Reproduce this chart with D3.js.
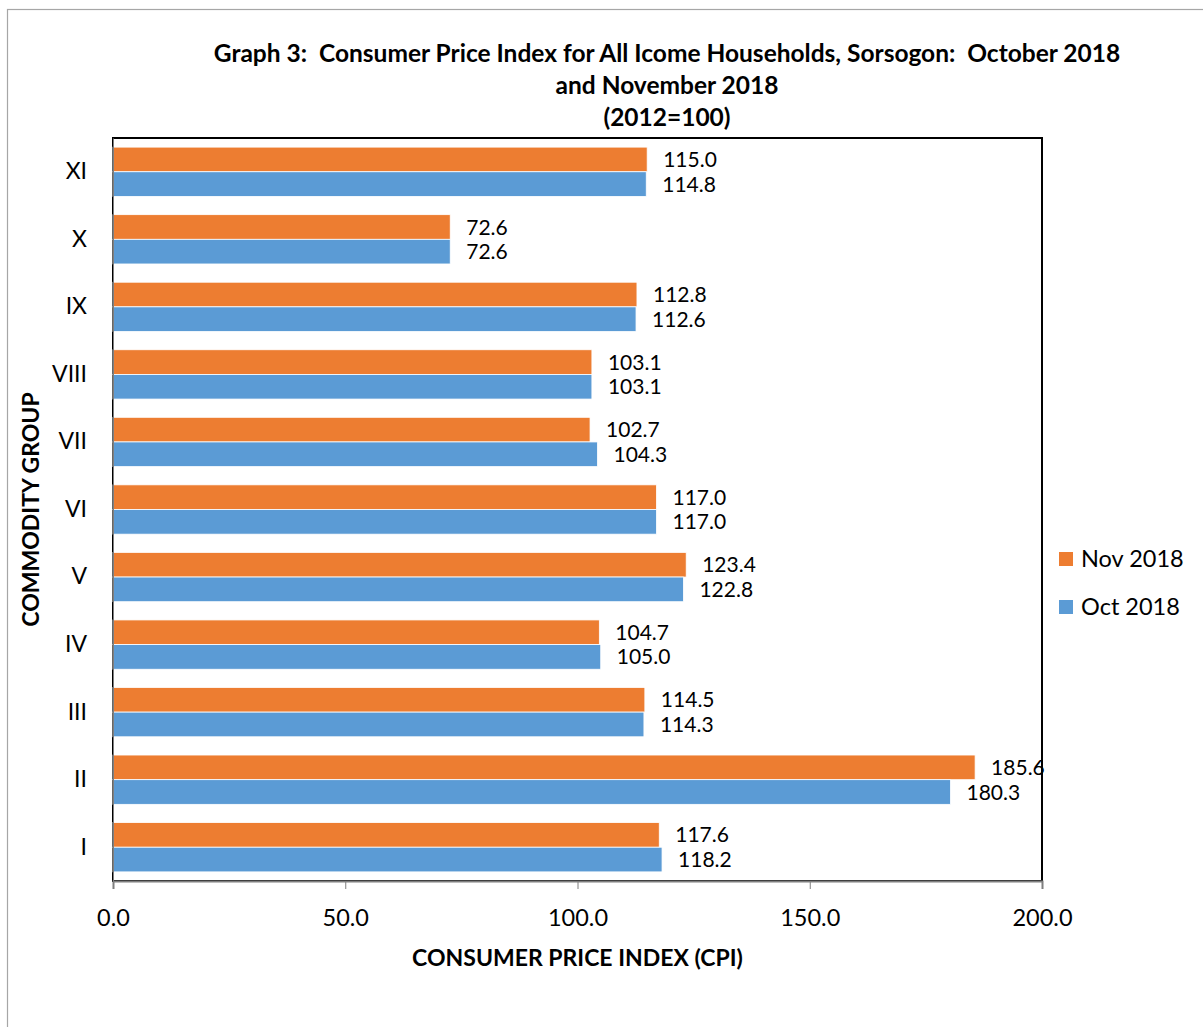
<!DOCTYPE html>
<html>
<head>
<meta charset="utf-8">
<script src="https://cdn.jsdelivr.net/npm/d3@7"></script>
<style>
  body { margin: 0; background: #fff; }
  text { font-family: Lato, "Open Sans", sans-serif; fill: #000; }
</style>
</head>
<body>
<div id="chart"></div>
<script>
// commodity groups, top to bottom as drawn
const groups = ["XI", "X", "IX", "VIII", "VII", "VI", "V", "IV", "III", "II", "I"];
const nov2018 = [115.0, 72.6, 112.8, 103.1, 102.7, 117.0, 123.4, 104.7, 114.5, 185.6, 117.6];
const oct2018 = [114.8, 72.6, 112.6, 103.1, 104.3, 117.0, 122.8, 105.0, 114.3, 180.3, 118.2];
const seriesNames = ["Nov 2018", "Oct 2018"];
const xTicks = [0, 50, 100, 150, 200];
const titleLines = ["Graph 3:  Consumer Price Index for All Icome Households, Sorsogon:  October 2018",
                    "and November 2018", "(2012=100)"];

const colors = {"Nov 2018": "#ED7D31", "Oct 2018": "#5B9BD5"};

const W = 1203, H = 1027;
const plot = {left: 113, top: 138, right: 1042, bottom: 881};

const svg = d3.select("#chart").append("svg")
  .attr("width", W).attr("height", H);

// outer chart border
svg.append("rect")
  .attr("x", 7.5).attr("y", 9.5)
  .attr("width", 1220).attr("height", 1040)
  .attr("fill", "#fff").attr("stroke", "#a6a6a6").attr("stroke-width", 1.2);

const rows = groups.map((g, i) => ({group: g, nov: nov2018[i], oct: oct2018[i]}));

const xScale = d3.scaleLinear().domain([0, 200]).range([plot.left, plot.right]);
const yScale = d3.scaleBand().domain(groups)
  .range([plot.top, plot.bottom]).paddingInner(0.27).paddingOuter(0.135);
const inner = d3.scaleBand().domain(seriesNames).range([0, yScale.bandwidth()]);

// plot frame
svg.append("rect")
  .attr("x", plot.left).attr("y", plot.top)
  .attr("width", plot.right - plot.left).attr("height", plot.bottom - plot.top)
  .attr("fill", "none").attr("stroke", "#000").attr("stroke-width", 2);

// bars
const rowG = svg.selectAll("g.row").data(rows).enter().append("g")
  .attr("class", "row")
  .attr("transform", d => "translate(0," + yScale(d.group) + ")");

seriesNames.forEach(s => {
  const key = s === "Nov 2018" ? "nov" : "oct";
  rowG.append("rect")
    .attr("x", xScale(0))
    .attr("y", inner(s))
    .attr("width", d => xScale(d[key]) - xScale(0))
    .attr("height", inner.bandwidth())
    .attr("fill", colors[s])
    .attr("stroke", "#fff").attr("stroke-width", 0.8);
  rowG.append("text")
    .attr("x", d => xScale(d[key]) + 16)
    .attr("y", inner(s) + inner.bandwidth() / 2)
    .attr("dy", "0.36em")
    .style("font-size", "21px")
    .text(d => d[key].toFixed(1));
});

// x axis
const xAxis = svg.append("g")
  .attr("transform", "translate(0," + plot.bottom + ")")
  .call(d3.axisBottom(xScale).tickValues(xTicks).tickSize(8).tickPadding(20)
    .tickFormat(d => d.toFixed(1)));
xAxis.select(".domain").attr("stroke", "#7f7f7f").attr("stroke-width", 2);
xAxis.selectAll(".tick line").attr("stroke", "#7f7f7f");
xAxis.selectAll(".tick text").style("font-size", "23.5px").attr("fill", "#000");

// y axis labels
const yAxis = svg.append("g")
  .attr("transform", "translate(" + plot.left + ",0)")
  .call(d3.axisLeft(yScale).tickSize(0).tickPadding(26));
yAxis.select(".domain").attr("stroke", "#7f7f7f").attr("stroke-width", 1);
yAxis.selectAll(".tick text").style("font-size", "23px").attr("fill", "#000");

// axis titles
svg.append("text")
  .attr("x", (plot.left + plot.right) / 2).attr("y", 966)
  .attr("text-anchor", "middle")
  .style("font-size", "23px").style("font-weight", "bold")
  .text("CONSUMER PRICE INDEX (CPI)");

svg.append("text")
  .attr("transform", "translate(39," + (plot.top + plot.bottom) / 2 + ") rotate(-90)")
  .attr("text-anchor", "middle")
  .style("font-size", "23px").style("font-weight", "bold")
  .text("COMMODITY GROUP");

// title
svg.selectAll("text.title").data(titleLines).enter().append("text")
  .attr("class", "title")
  .attr("x", 667).attr("y", (d, i) => 62 + i * 32)
  .attr("text-anchor", "middle")
  .style("font-size", "24.5px").style("font-weight", "bold")
  .style("white-space", "pre")
  .text(d => d);

// legend
const legend = svg.selectAll("g.legend").data(seriesNames).enter().append("g")
  .attr("class", "legend")
  .attr("transform", (d, i) => "translate(1059," + (552 + i * 48) + ")");
legend.append("rect").attr("width", 14).attr("height", 14).attr("fill", d => colors[d]);
legend.append("text").attr("x", 22).attr("y", 7).attr("dy", "0.36em")
  .style("font-size", "23.5px").text(d => d);
</script>
</body>
</html>
